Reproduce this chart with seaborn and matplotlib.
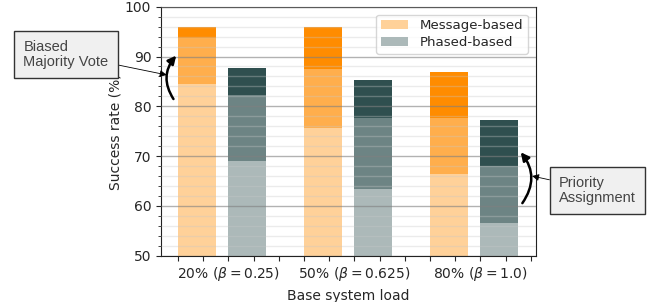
import numpy as np
import pandas as pd
import matplotlib
matplotlib.use("Agg")
import matplotlib.pyplot as plt
from matplotlib.ticker import MultipleLocator
import seaborn as sns

# Data
loads = ["20% ($\\beta = 0.25$)", "50% ($\\beta = 0.625$)", "80% ($\\beta = 1.0$)"]
methods = ["Message-based", "Phased-based"]
# base success rate (light layer)
msg_base = [84.5, 75.7, 66.5]
pha_base = [69.0, 63.3, 56.5]
# with biased majority vote (middle layer)
msg_vote = [93.7, 87.5, 77.7]
pha_vote = [82.3, 77.7, 68.1]
# with priority assignment (dark layer)
msg_prio = [95.9, 95.9, 86.9]
pha_prio = [87.7, 85.3, 77.2]

df = pd.DataFrame({
    "load": loads * 2,
    "method": [methods[0]] * 3 + [methods[1]] * 3,
    "base": msg_base + pha_base,
    "vote": msg_vote + pha_vote,
    "prio": msg_prio + pha_prio,
})

sns.set_style("ticks")
plt.rcParams["font.family"] = ["DejaVu Sans"]

fig = plt.figure(figsize=(6.5, 3.02), dpi=100)
ax = fig.add_axes([0.2477, 0.1533, 0.5769, 0.8245])

# layers drawn tallest first so the shorter ones sit on top
layers = [
    ("prio", {"Message-based": "#ff8c00", "Phased-based": "#2f4f4f"}),
    ("vote", {"Message-based": "#ffae4c", "Phased-based": "#6d8484"}),
    ("base", {"Message-based": "#ffd199", "Phased-based": "#acb9b9"}),
]
for i, (col, pal) in enumerate(layers):
    sns.barplot(data=df, x="load", y=col, hue="method", palette=pal,
                width=0.8, gap=0.25, saturation=1, ax=ax,
                legend=(i == len(layers) - 1), linewidth=0)

ax.set_ylim(50, 100)
ax.set_xlim(-0.485, 2.491)
ax.yaxis.set_major_locator(MultipleLocator(10))
ax.yaxis.set_minor_locator(MultipleLocator(2))

tick_pos = [(i - 1.75) / 5 for i in range(15)]
tick_lab = ["" for _ in tick_pos]
for g, lab in zip([2, 7, 12], loads):
    tick_lab[g] = lab
ax.set_xticks(tick_pos)
ax.set_xticklabels(tick_lab, fontsize=10)
ax.tick_params(axis="y", labelsize=10)
ax.tick_params(axis="x", length=3.5)

ax.set_axisbelow(False)
ax.grid(axis="y", which="major", color="#808080", alpha=0.6, linewidth=1)
ax.grid(axis="y", which="minor", color="#c8c8c8", alpha=0.35, linewidth=1)

ax.set_xlabel("Base system load", fontsize=10)
ax.set_ylabel("Success rate (%)", fontsize=10, labelpad=2)
for s in ax.spines.values():
    s.set_visible(True)
    s.set_color("#222222")

leg = ax.legend(loc="upper right", fontsize=9.6, title=None,
                handlelength=2.0, borderpad=0.35, labelspacing=0.3,
                handletextpad=0.9, borderaxespad=0.6)

box = dict(boxstyle="square,pad=0.62", facecolor="#f0f0f0", edgecolor="#333333", linewidth=1)
txt_kw = dict(fontsize=10.5, family=["Liberation Sans", "DejaVu Sans"], color="#444444",
              ha="left", va="center", bbox=box, linespacing=1.1)

# curved arrows on the first and last bars
ax.annotate("", xy=(-0.35, 90.6), xytext=(-0.374, 81.0),
            arrowprops=dict(arrowstyle="-|>", color="black", lw=1.8,
                            connectionstyle="arc3,rad=-0.4", mutation_scale=12))
ax.annotate("", xy=(2.356, 71.2), xytext=(2.37, 60.1),
            arrowprops=dict(arrowstyle="-|>", color="black", lw=1.8,
                            connectionstyle="arc3,rad=0.4", mutation_scale=12))

# text boxes with thin pointer arrows
ax.annotate("Biased\nMajority Vote", xy=(-0.44, 86.3), xycoords="data",
            xytext=(0.036, 0.820), textcoords="figure fraction",
            arrowprops=dict(arrowstyle="-|>", color="black", lw=0.6,
                            mutation_scale=10, shrinkA=0, shrinkB=0),
            **txt_kw)
ax.annotate("Priority\nAssignment", xy=(2.46, 66.0), xycoords="data",
            xytext=(0.860, 0.370), textcoords="figure fraction",
            arrowprops=dict(arrowstyle="-|>", color="black", lw=0.6,
                            mutation_scale=10, shrinkA=0, shrinkB=0),
            **txt_kw)

fig.savefig("out.png", dpi=100)
